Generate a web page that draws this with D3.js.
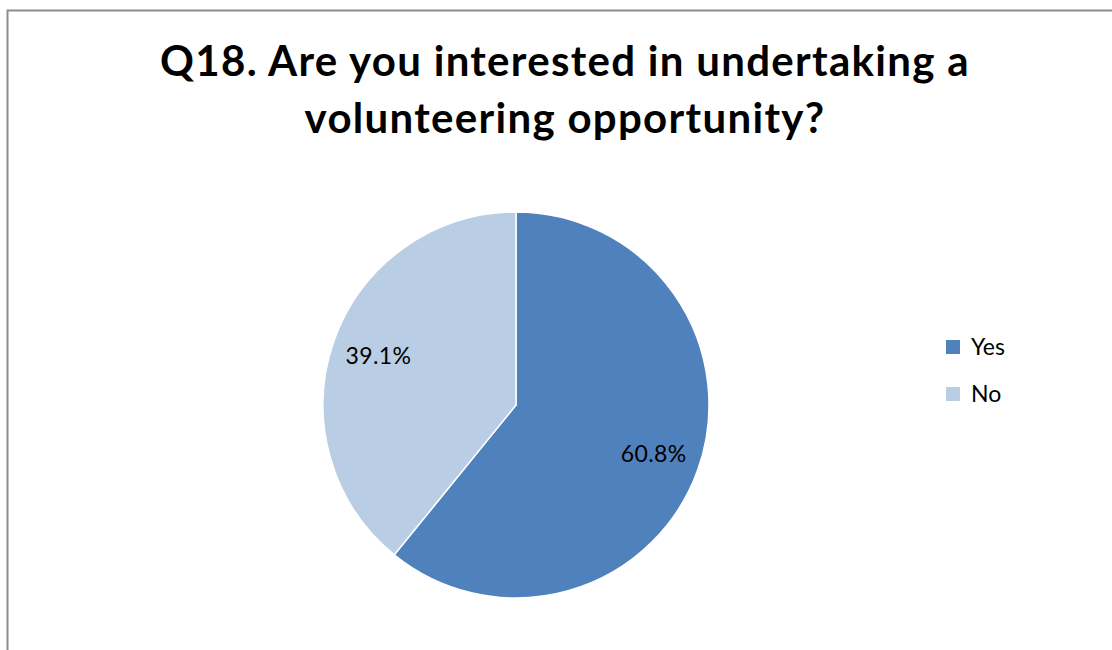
<!DOCTYPE html>
<html>
<head>
<meta charset="utf-8">
<script src="https://cdn.jsdelivr.net/npm/d3@7"></script>
<style>
  html, body { margin: 0; padding: 0; background: #fff; }
  svg { display: block; }
</style>
</head>
<body>
<svg id="chart" width="1112" height="650"></svg>
<script>
// Survey answers for Q18
const categories = ["Yes", "No"];
const values = [60.8, 39.1];
const labels = ["60.8%", "39.1%"];
const colors = ["#4f81bd", "#b9cde5"];
const titleLines = ["Q18. Are you interested in undertaking a", "volunteering opportunity?"];

const svg = d3.select("#chart");
const font = "Lato, 'Open Sans', sans-serif";

// Chart area frame
svg.append("rect")
  .attr("x", 7.5).attr("y", 10.5)
  .attr("width", 1200).attr("height", 800)
  .attr("fill", "#fff")
  .attr("stroke", "#8c8c8c")
  .attr("stroke-width", 2);

// Title
svg.append("g").selectAll("text")
  .data(titleLines)
  .join("text")
  .attr("x", 565)
  .attr("y", (d, i) => 76 + i * 57)
  .attr("text-anchor", "middle")
  .attr("font-family", font)
  .attr("font-weight", "bold")
  .attr("font-size", 42)
  .attr("letter-spacing", 1.3)
  .attr("fill", "#000")
  .text(d => d);

// Pie
const cx = 516, cy = 405, radius = 193;
const pie = d3.pie().sort(null).value(d => d.value);
const data = categories.map((c, i) => ({ cat: c, value: values[i], label: labels[i], color: colors[i] }));
const arcs = pie(data);
const arc = d3.arc().innerRadius(0).outerRadius(radius);
const labelArc = d3.arc().innerRadius(146).outerRadius(146);

const g = svg.append("g").attr("transform", `translate(${cx},${cy})`);
g.selectAll("path")
  .data(arcs)
  .join("path")
  .attr("d", arc)
  .attr("fill", d => d.data.color)
  .attr("stroke", "#fff")
  .attr("stroke-width", 1.5);

g.selectAll("text")
  .data(arcs)
  .join("text")
  .attr("transform", d => `translate(${labelArc.centroid(d)})`)
  .attr("text-anchor", "middle")
  .attr("dy", "0.35em")
  .attr("font-family", font)
  .attr("font-size", 23)
  .attr("letter-spacing", 0.4)
  .attr("fill", "#000")
  .text(d => d.data.label);

// Legend
const legend = svg.append("g").attr("transform", "translate(946,340)");
const items = legend.selectAll("g")
  .data(data)
  .join("g")
  .attr("transform", (d, i) => `translate(0,${i * 47})`);
items.append("rect")
  .attr("width", 14).attr("height", 14)
  .attr("fill", d => d.color);
items.append("text")
  .attr("x", 25).attr("y", 7)
  .attr("dy", "0.35em")
  .attr("font-family", font)
  .attr("font-size", 23)
  .attr("fill", "#000")
  .text(d => d.cat);
</script>
</body>
</html>
